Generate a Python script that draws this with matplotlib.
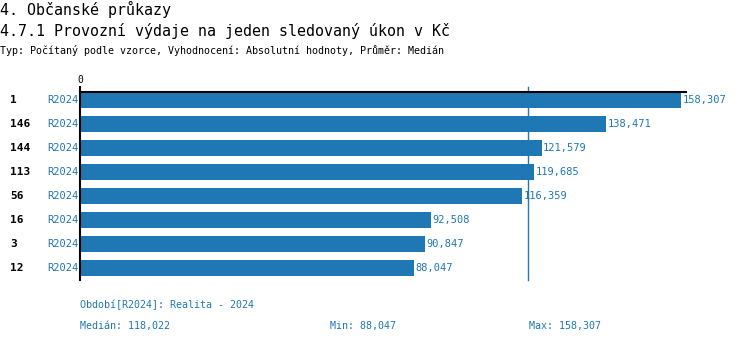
import matplotlib
matplotlib.use("Agg")
import matplotlib.pyplot as plt

ids = ["1", "146", "144", "113", "56", "16", "3", "12"]
periods = ["R2024"] * 8
values = [158307, 138471, 121579, 119685, 116359, 92508, 90847, 88047]
median = 118022
vmin = 88047
vmax = 158307

title1 = "4. Občanské průkazy"
title2 = "4.7.1 Provozní výdaje na jeden sledovaný úkon v Kč"
subtitle = "Typ: Počítaný podle vzorce, Vyhodnocení: Absolutní hodnoty, Průměr: Medián"
footer1 = "Období[R2024]: Realita - 2024"

def fmt(v):
    return f"{v:,}"

BLUE = "#1f77b4"
MONO = ["DejaVu Sans Mono"]
W, H = 750, 344
fig = plt.figure(figsize=(7.5, 3.44), dpi=100)

def px(x, y):
    return x / W, 1 - y / H

ax = fig.add_axes([80 / W, 1 - 280 / H, (686 - 80) / W, (280 - 92) / H])
ypos = list(range(len(values)))
ax.barh(ypos, values, height=0.63, color=BLUE, zorder=2)
ax.set_xlim(0, 159600)
ax.set_ylim(7.5, -0.333)
ax.axvline(median, ymin=0, ymax=1.027, color=BLUE, lw=1, zorder=1, clip_on=False)
for s in ["right", "bottom"]:
    ax.spines[s].set_visible(False)
ax.spines["top"].set_linewidth(1.5)
ax.spines["left"].set_linewidth(1.5)
ax.xaxis.tick_top()
ax.set_xticks([0])
ax.set_xticklabels(["0"], fontsize=7, family=MONO)
ax.tick_params(axis="x", length=4, width=1.5, pad=1)
ax.set_yticks([])

for i, (v, idl, p) in enumerate(zip(values, ids, periods)):
    ax.text(v + 400, i, fmt(v), color=BLUE, fontsize=7.5, family=MONO,
            va="center", ha="left")
    fig.text(10 / W, 1 - (100 + 24 * i) / H, idl, fontsize=8, weight="bold",
             family=MONO, va="center", ha="left")
    fig.text(78 / W, 1 - (100 + 24 * i) / H, p, fontsize=7.5, color=BLUE,
             family=MONO, va="center", ha="right")

fig.text(*px(0, 9), title1, fontsize=10.8, family=MONO, va="center", ha="left")
fig.text(*px(0, 31), title2, fontsize=10.8, family=MONO, va="center", ha="left")
fig.text(*px(0, 50), subtitle, fontsize=7.2, family=MONO, va="center", ha="left")
fig.text(*px(80, 305), footer1, fontsize=7.2, color=BLUE, family=MONO, va="center", ha="left")
fig.text(*px(80, 326), f"Medián: {fmt(median)}", fontsize=7.2, color=BLUE, family=MONO, va="center", ha="left")
fig.text(*px(330, 326), f"Min: {fmt(vmin)}", fontsize=7.2, color=BLUE, family=MONO, va="center", ha="left")
fig.text(*px(529, 326), f"Max: {fmt(vmax)}", fontsize=7.2, color=BLUE, family=MONO, va="center", ha="left")

fig.savefig("out.png", dpi=100)
